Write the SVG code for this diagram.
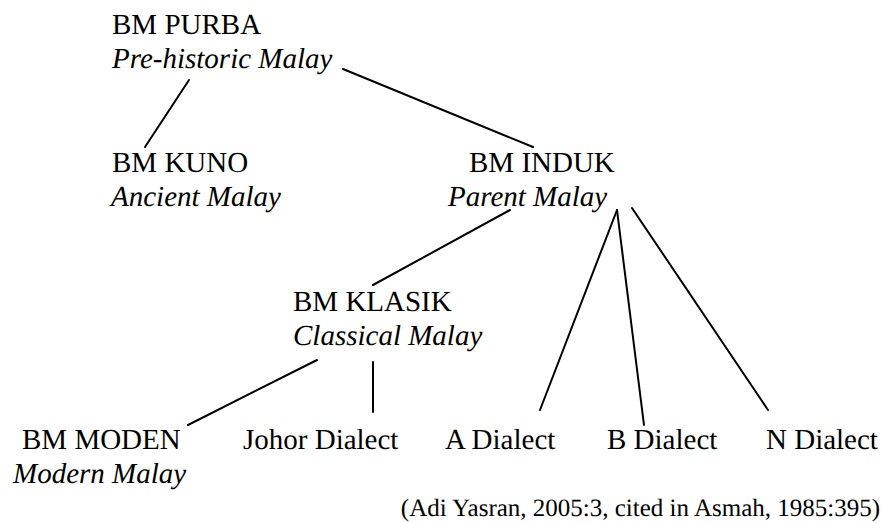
<svg xmlns="http://www.w3.org/2000/svg" width="892" height="523" viewBox="0 0 892 523">
<style>
.t{font-family:'Liberation Serif','Times New Roman',serif;font-size:25px;fill:#000;text-rendering:geometricPrecision}
.i{font-style:italic}
line{stroke:#000;stroke-width:2;stroke-linecap:round}
</style>
<rect width="892" height="523" fill="#fff"/>
<g id="connectors">
<line x1="189" y1="80" x2="145" y2="147"/>
<line x1="343" y1="69" x2="533" y2="147"/>
<line x1="510" y1="210" x2="373" y2="285"/>
<line x1="317" y1="360" x2="188" y2="425"/>
<line x1="373" y1="362" x2="373" y2="412"/>
<line x1="617" y1="210" x2="540" y2="410"/>
<line x1="617" y1="210" x2="644" y2="425"/>
<line x1="632" y1="208" x2="768" y2="410"/>
</g>
<g id="purba"><text class="t" transform="translate(112 34) scale(1.16)">BM PURBA</text><text class="t i" transform="translate(112 68) scale(1.16)">Pre-historic Malay</text></g>
<g id="kuno"><text class="t" transform="translate(112 172) scale(1.16)">BM KUNO</text><text class="t i" transform="translate(111 206) scale(1.16)">Ancient Malay</text></g>
<g id="induk"><text class="t" transform="translate(469 172) scale(1.16)">BM INDUK</text><text class="t i" transform="translate(448 206) scale(1.16)">Parent Malay</text></g>
<g id="klasik"><text class="t" transform="translate(293 311) scale(1.16)">BM KLASIK</text><text class="t i" transform="translate(293 345) scale(1.16)">Classical Malay</text></g>
<g id="moden"><text class="t" transform="translate(22 449) scale(1.16)">BM MODEN</text><text class="t i" transform="translate(13 483) scale(1.16)">Modern Malay</text></g>
<g id="johor"><text class="t" transform="translate(243 449) scale(1.16)">Johor Dialect</text></g>
<g id="a"><text class="t" transform="translate(445 449) scale(1.16)">A Dialect</text></g>
<g id="b"><text class="t" transform="translate(607 449) scale(1.16)">B Dialect</text></g>
<g id="n"><text class="t" transform="translate(766 449) scale(1.16)">N Dialect</text></g>
<text class="t" x="880" y="516" text-anchor="end">(Adi Yasran, 2005:3, cited in Asmah, 1985:395)</text>
</svg>
